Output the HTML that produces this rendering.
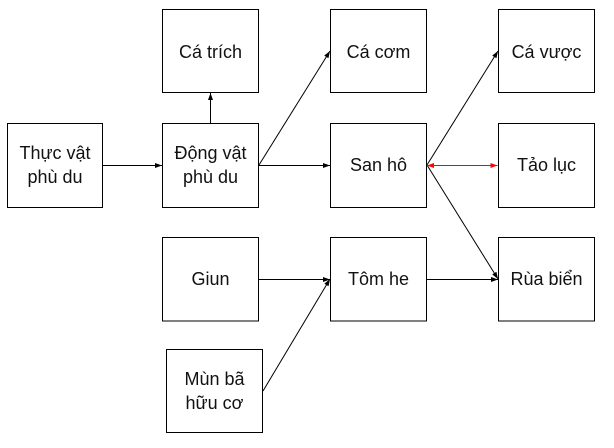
<!DOCTYPE html>
<html>
<head>
<meta charset="utf-8">
<style>
html,body{margin:0;padding:0;background:#fff;}
svg{display:block;}
text{font-family:"Liberation Sans","DejaVu Sans",sans-serif;font-size:18px;fill:#111;}
</style>
</head>
<body>
<svg width="614" height="448" viewBox="0 0 614 448" xmlns="http://www.w3.org/2000/svg">
<defs>
<marker id="ah" markerWidth="8" markerHeight="6" refX="7" refY="3" orient="auto" markerUnits="userSpaceOnUse">
<path d="M0,0.5 L7,3 L0,5.5 Z" fill="#000"/>
</marker>
<marker id="ahr" markerWidth="8" markerHeight="6" refX="7" refY="3" orient="auto" markerUnits="userSpaceOnUse">
<path d="M0,0.5 L7,3 L0,5.5 Z" fill="#f00"/>
</marker>
<marker id="ahrs" markerWidth="8" markerHeight="6" refX="0" refY="3" orient="auto" markerUnits="userSpaceOnUse">
<path d="M7,0.5 L0,3 L7,5.5 Z" fill="#f00"/>
</marker>
</defs>
<g fill="#fff" stroke="#000" stroke-width="1">
<rect x="7.5" y="123.5" width="95" height="84"/>
<rect x="162.5" y="9.5" width="96" height="83"/>
<rect x="162.5" y="123.5" width="96" height="84"/>
<rect x="162.5" y="237.5" width="96" height="83.5"/>
<rect x="166.5" y="349.5" width="96" height="83"/>
<rect x="330.5" y="9.5" width="96" height="83"/>
<rect x="330.5" y="123.5" width="96" height="84"/>
<rect x="330.5" y="237.5" width="96" height="83.5"/>
<rect x="498.5" y="9.5" width="96" height="83"/>
<rect x="498.5" y="123.5" width="96" height="84"/>
<rect x="498.5" y="237.5" width="96" height="83.5"/>
</g>
<g stroke="#000" stroke-width="1" fill="none">
<line x1="103" y1="165.5" x2="162" y2="165.5" marker-end="url(#ah)"/>
<line x1="210.5" y1="123" x2="210.5" y2="93" marker-end="url(#ah)"/>
<line x1="259" y1="165" x2="330" y2="51" marker-end="url(#ah)"/>
<line x1="259" y1="165.5" x2="330" y2="165.5" marker-end="url(#ah)"/>
<line x1="427" y1="165" x2="498" y2="51" marker-end="url(#ah)"/>
<line x1="427" y1="165" x2="498" y2="279" marker-end="url(#ah)"/>
<line x1="259" y1="279.5" x2="330" y2="279.5" marker-end="url(#ah)"/>
<line x1="263" y1="391" x2="330" y2="279" marker-end="url(#ah)"/>
<line x1="427" y1="279.5" x2="498" y2="279.5" marker-end="url(#ah)"/>
</g>
<line x1="427" y1="165.5" x2="497.5" y2="165.5" stroke="#f00" stroke-width="1" marker-end="url(#ahr)" marker-start="url(#ahrs)"/>
<g text-anchor="middle">
<text x="55" y="159">Thực vật</text>
<text x="55" y="183">phù du</text>
<text x="210.5" y="58">Cá trích</text>
<text x="210.5" y="159">Động vật</text>
<text x="210.5" y="183">phù du</text>
<text x="210.5" y="285">Giun</text>
<text x="214.5" y="385">Mùn bã</text>
<text x="214.5" y="409">hữu cơ</text>
<text x="378.5" y="58">Cá cơm</text>
<text x="378.5" y="171">San hô</text>
<text x="378.5" y="285">Tôm he</text>
<text x="546.5" y="58">Cá vược</text>
<text x="546.5" y="171">Tảo lục</text>
<text x="546.5" y="285">Rùa biển</text>
</g>
</svg>
</body>
</html>
